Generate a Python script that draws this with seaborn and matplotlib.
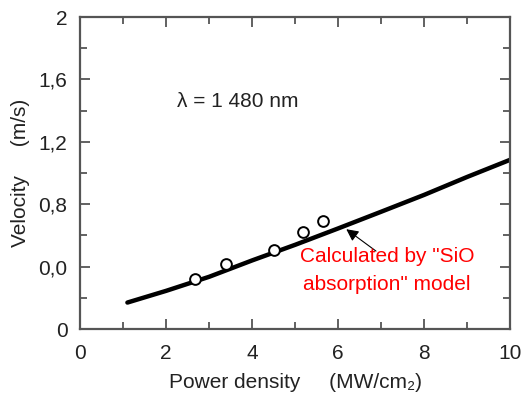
import numpy as np
import pandas as pd
import matplotlib
matplotlib.use("Agg")
import matplotlib.pyplot as plt
import seaborn as sns
from matplotlib.ticker import MultipleLocator

# Données
power_meas = [2.67, 3.40, 4.51, 5.19, 5.65]
velocity_meas = [0.32, 0.42, 0.51, 0.62, 0.69]

power_model = [1.1, 2, 3, 4, 5, 6, 7, 8, 9, 10]
velocity_model = [0.17, 0.245, 0.335, 0.44, 0.54, 0.645, 0.752, 0.86, 0.975, 1.085]

x_ticks = [0, 2, 4, 6, 8, 10]
y_ticks = [0, 0.4, 0.8, 1.2, 1.6, 2]
y_labels = ["0", "0,0", "0,8", "1,2", "1,6", "2"]

df_meas = pd.DataFrame({"power": power_meas, "velocity": velocity_meas})
df_model = pd.DataFrame({"power": power_model, "velocity": velocity_model})

sns.set_style("ticks")
plt.rcParams["font.family"] = ["Liberation Sans", "DejaVu Sans"]

fs = 15
txt = "#222222"

fig = plt.figure(figsize=(5.27, 3.96), dpi=100)
ax = fig.add_axes([0.152, 0.169, 0.816, 0.788])

sns.lineplot(data=df_model, x="power", y="velocity", color="black",
             linewidth=3.2, ax=ax)
sns.scatterplot(data=df_meas, x="power", y="velocity", s=60,
                facecolor="white", edgecolor="black", linewidth=1.4,
                zorder=3, ax=ax)

ax.set_xlim(0, 10)
ax.set_ylim(0, 2)
ax.set_xticks(x_ticks)
ax.set_yticks(y_ticks)
ax.set_yticklabels(y_labels)
ax.xaxis.set_minor_locator(MultipleLocator(1))
ax.yaxis.set_minor_locator(MultipleLocator(0.2))
ax.tick_params(which="both", direction="in", top=True, right=True,
               colors="#555555", labelcolor=txt, labelsize=fs, width=1.3)
ax.tick_params(which="major", length=7, pad=9)
ax.tick_params(axis="x", which="major", pad=11)
ax.tick_params(which="minor", length=5)
for s in ax.spines.values():
    s.set_color("#555555")
    s.set_linewidth(1.6)

ax.set_xlabel("Power density     (MW/cm₂)", fontsize=fs, color=txt, labelpad=7)
ax.set_ylabel("Velocity     (m/s)", fontsize=fs, color=txt, labelpad=6)

ax.text(2.25, 1.46, "λ = 1 480 nm", fontsize=fs, color=txt, va="center")

ax.annotate("", xy=(6.19, 0.64), xytext=(6.88, 0.50),
            arrowprops=dict(arrowstyle="-|>", color="black", lw=0.8,
                            mutation_scale=18, shrinkA=0, shrinkB=0))
ax.text(7.14, 0.375, "Calculated by \"SiO\nabsorption\" model", fontsize=fs,
        color="red", ha="center", va="center", linespacing=1.55)

fig.savefig("out.png", dpi=100)
